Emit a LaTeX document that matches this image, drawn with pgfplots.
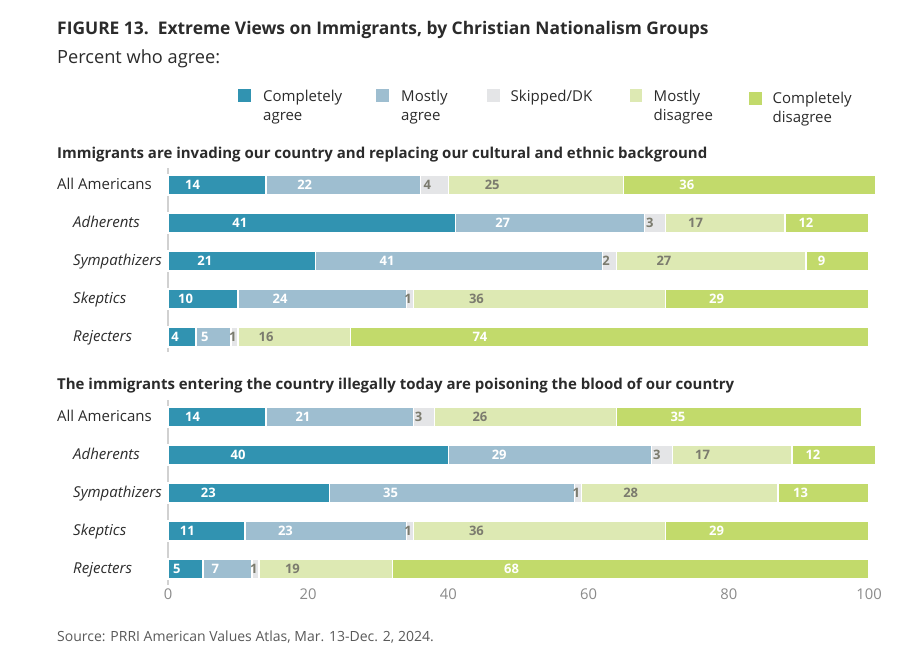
\documentclass[border=0pt]{standalone}
\usepackage{fontspec}
\setmainfont{Open Sans}
\usepackage{pgfplots}
\pgfplotsset{compat=1.18}
\usepackage{pgfplotstable}

\definecolor{ca}{HTML}{3193B1}
\definecolor{ma}{HTML}{9EBED0}
\definecolor{sk}{HTML}{E4E5E7}
\definecolor{md}{HTML}{DDE9B3}
\definecolor{cd}{HTML}{C2DA6B}
\definecolor{lblgray}{HTML}{7B7B6E}
\definecolor{txt}{HTML}{2B2B2B}
\definecolor{ticks}{HTML}{8A8A8A}

\pgfplotstableread{
y ca ma sk md cd
-185 14 22 4 25 36
-223 41 27 3 17 12
-261 21 41 2 27 9
-299 10 24 1 36 29
-337 4 5 1 16 74
}\tableA
\pgfplotstableread{
y ca ma sk md cd
-417 14 21 3 26 35
-455 40 29 3 17 12
-493 23 35 1 28 13
-531 11 23 1 36 29
-569 5 7 1 19 68
}\tableB

\pgfplotsset{
  panel/.style={
    xbar stacked, scale only axis, width=701pt,
    xmin=0, xmax=100, bar width=20pt, clip=false,
    axis lines*=left,
    y axis line style={draw=black!18, line width=1.2pt, -},
    x axis line style={draw=none},
    ytick=\empty, major tick length=0pt,
    /pgf/number format/assume math mode=true,
    xticklabel style={font=\fontsize{14.8}{14.8}\selectfont, text=ticks},
  },
  seg/.style n args={3}{
    fill=#2, draw=white, line width=1.3pt,
    point meta=explicit,
    visualization depends on={\thisrow{#1}\as\segw},
    nodes near coords={\pgfmathprintnumber{\pgfplotspointmeta}},
    every node near coord/.append style={anchor=center, xshift={-\segw*1.7525pt},
      font=\bfseries\fontsize{13}{13}\selectfont, text=#3},
  },
}

\begin{document}
\begin{tikzpicture}[x=1pt,y=1pt]
\path (0,0) rectangle (917,660);

% Title and subtitle
\node[anchor=base west, inner sep=0, text=txt, font=\bfseries\fontsize{17.4}{17.4}\selectfont] at (57,660-35) {FIGURE 13.\ \ Extreme Views on Immigrants, by Christian Nationalism Groups};
\node[anchor=base west, inner sep=0, text=txt, font=\fontsize{18.2}{18.2}\selectfont] at (57,660-64) {Percent who agree:};

% Legend
\begin{scope}[every node/.style={anchor=base west, inner sep=0, text=txt, font=\fontsize{15}{15}\selectfont, align=left}]
\fill[ca] (238,660-102) rectangle (250.5,660-89.5);
\node at (263,660-102) {Completely};
\node at (263,660-121) {agree};
\fill[ma] (376,660-102) rectangle (388.5,660-89.5);
\node at (401,660-102) {Mostly};
\node at (401,660-121) {agree};
\fill[sk] (487,660-102) rectangle (499.5,660-89.5);
\node at (510.5,660-102) {Skipped/DK};
\fill[md] (629.5,660-102) rectangle (642,660-89.5);
\node at (653.5,660-102) {Mostly};
\node at (653.5,660-121) {disagree};
\fill[cd] (749,660-105) rectangle (761.5,660-92.5);
\node at (772.5,660-104) {Completely};
\node at (772.5,660-123) {disagree};
\end{scope}

% Section headers
\node[anchor=base west, inner sep=0, text=txt, font=\bfseries\fontsize{15}{15}\selectfont] at (57,660-159) {Immigrants are invading our country and replacing our cultural and ethnic background};
\node[anchor=base west, inner sep=0, text=txt, font=\bfseries\fontsize{15}{15}\selectfont] at (57,660-390) {The immigrants entering the country illegally today are poisoning the blood of our country};

% Panel 1
\begin{axis}[panel, height=184pt, ymin=-352, ymax=-168, xtick=\empty,
  at={(168pt,308pt)}, anchor=south west]
\addplot[seg={ca}{ca}{white}] table[x=ca, y=y, meta=ca] {\tableA};
\addplot[seg={ma}{ma}{white}] table[x=ma, y=y, meta=ma] {\tableA};
\addplot[seg={sk}{sk}{lblgray}] table[x=sk, y=y, meta=sk] {\tableA};
\addplot[seg={md}{md}{lblgray}] table[x=md, y=y, meta=md] {\tableA};
\addplot[seg={cd}{cd}{white}] table[x=cd, y=y, meta=cd] {\tableA};
\end{axis}

% Panel 2
\begin{axis}[panel, height=185pt, ymin=-585, ymax=-400, xtick={0,20,...,100},
  at={(168pt,75pt)}, anchor=south west]
\addplot[seg={ca}{ca}{white}] table[x=ca, y=y, meta=ca] {\tableB};
\addplot[seg={ma}{ma}{white}] table[x=ma, y=y, meta=ma] {\tableB};
\addplot[seg={sk}{sk}{lblgray}] table[x=sk, y=y, meta=sk] {\tableB};
\addplot[seg={md}{md}{lblgray}] table[x=md, y=y, meta=md] {\tableB};
\addplot[seg={cd}{cd}{white}] table[x=cd, y=y, meta=cd] {\tableB};
\end{axis}

% Category labels
\begin{scope}[every node/.style={anchor=base west, inner sep=0, text=txt, font=\fontsize{15}{15}\selectfont}]
\node at (57,660-190) {All Americans};
\node at (73,660-228) {\itshape Adherents};
\node at (73,660-266) {\itshape Sympathizers};
\node at (73,660-304) {\itshape Skeptics};
\node at (73,660-342) {\itshape Rejecters};
\node at (57,660-422) {All Americans};
\node at (73,660-460) {\itshape Adherents};
\node at (73,660-498) {\itshape Sympathizers};
\node at (73,660-536) {\itshape Skeptics};
\node at (73,660-574) {\itshape Rejecters};
\end{scope}

% Source
\node[anchor=base west, inner sep=0, text=black!65, font=\fontsize{14}{14}\selectfont] at (57,660-642) {Source: PRRI American Values Atlas, Mar. 13-Dec. 2, 2024.};
\end{tikzpicture}
\end{document}
